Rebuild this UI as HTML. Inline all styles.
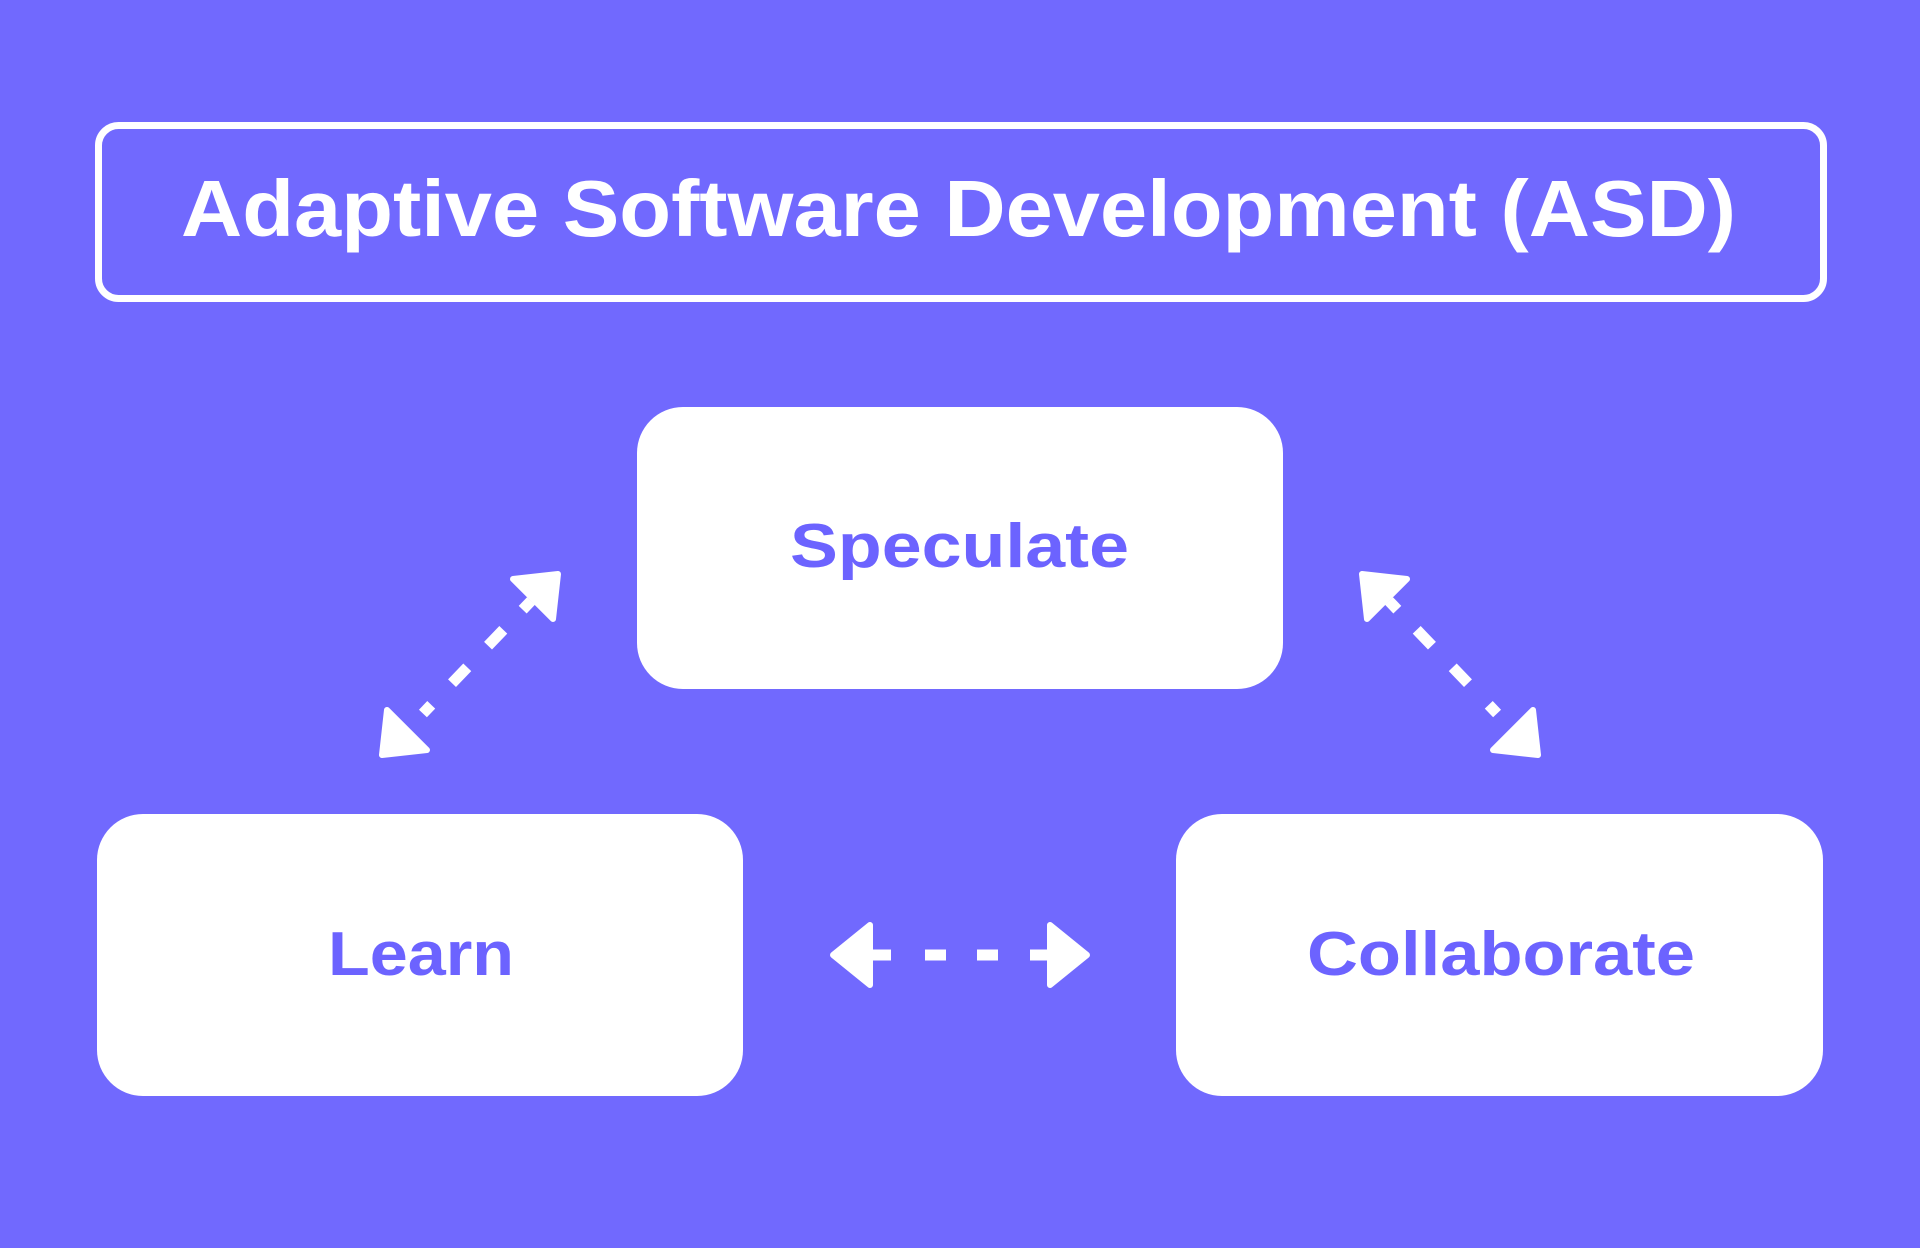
<!DOCTYPE html>
<html><head><meta charset="utf-8"><style>
html,body{margin:0;padding:0;background:#7169fe;}
svg{display:block}
</style></head><body>
<svg width="1920" height="1248" viewBox="0 0 1920 1248" xmlns="http://www.w3.org/2000/svg">
<rect x="0" y="0" width="1920" height="1248" fill="#7169fe"/>
<rect x="98.5" y="125.5" width="1725" height="173" rx="20" fill="none" stroke="#fff" stroke-width="7"/>
<text x="181" y="236" font-family="Liberation Sans, sans-serif" font-weight="bold" font-size="80" fill="#fff" textLength="1555" lengthAdjust="spacingAndGlyphs">Adaptive Software Development (ASD)</text>

<rect x="637" y="407" width="646" height="282" rx="46" fill="#fff"/>
<rect x="97" y="814" width="646" height="282" rx="46" fill="#fff"/>
<rect x="1176" y="814" width="647" height="282" rx="46" fill="#fff"/>

<g font-family="Liberation Sans, sans-serif" font-weight="bold" font-size="62" fill="#6c63ff">
<text x="790" y="567" textLength="339" lengthAdjust="spacingAndGlyphs">Speculate</text>
<text x="328" y="975" textLength="186" lengthAdjust="spacingAndGlyphs">Learn</text>
<text x="1307" y="975" textLength="388" lengthAdjust="spacingAndGlyphs">Collaborate</text>
</g>

<g fill="#fff" stroke="#fff" stroke-width="6" stroke-linejoin="round">
<!-- left diagonal -->
<polygon points="558,574 513,579 553,619"/>
<polygon points="382,755 387,710 427,750"/>
<!-- right diagonal -->
<polygon points="1362,574 1407,579 1367,619"/>
<polygon points="1538,755 1533,710 1493,750"/>
<!-- horizontal -->
<polygon points="833,955 870,925 870,985"/>
<polygon points="1087,955 1050,925 1050,985"/>
</g>
<g stroke="#fff" stroke-width="11" fill="none">
<line x1="531" y1="601" x2="409" y2="728" stroke-dasharray="12 28 22 30 22 30 12 100"/>
<line x1="1389" y1="601" x2="1511" y2="728" stroke-dasharray="12 28 22 30 22 30 12 100"/>
<line x1="870" y1="955" x2="891" y2="955"/>
<line x1="925" y1="955" x2="946" y2="955"/>
<line x1="977" y1="955" x2="998" y2="955"/>
<line x1="1030" y1="955" x2="1050" y2="955"/>
</g>
</svg>
</body></html>
